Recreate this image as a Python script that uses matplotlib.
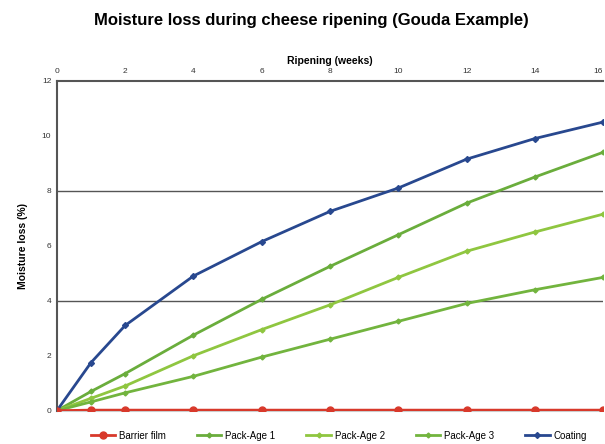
import numpy as np
import matplotlib.pyplot as plt

plt.rcParams['font.family'] = ['Liberation Sans', 'DejaVu Sans']

weeks = [0, 1, 2, 4, 6, 8, 10, 12, 14, 16]
barrier = [0, 0.02, 0.02, 0.02, 0.02, 0.02, 0.02, 0.02, 0.02, 0.02]
pack1 = [0, 0.7, 1.35, 2.75, 4.05, 5.25, 6.4, 7.55, 8.5, 9.4]
pack2 = [0, 0.45, 0.9, 2.0, 2.95, 3.85, 4.85, 5.8, 6.5, 7.15]
pack3 = [0, 0.32, 0.65, 1.25, 1.95, 2.6, 3.25, 3.9, 4.4, 4.85]
coating = [0, 1.75, 3.1, 4.9, 6.15, 7.25, 8.1, 9.15, 9.9, 10.5]

names = ['Barrier film', 'Pack-Age 1', 'Pack-Age 2', 'Pack-Age 3', 'Coating']
series = [barrier, pack1, pack2, pack3, coating]
colors = ['#d8392b', '#6aad3c', '#8fc640', '#72b43e', '#28488f']
markers = ['o', 'D', 'D', 'D', 'D']
msizes = [5, 2.5, 2.5, 2.5, 3]

fig = plt.figure(figsize=(6.05, 4.44), dpi=100)
ax = fig.add_axes([0.094, 0.075, 0.903, 0.743])

for vals, name, c, m, ms in zip(series, names, colors, markers, msizes):
    ax.plot(weeks, vals, color=c, lw=2, marker=m, ms=ms, label=name,
            zorder=3 if name != 'Barrier film' else 4)

ax.set_xlim(0, 16)
ax.set_ylim(0, 12)
ax.set_xticks(range(0, 17, 2))
ax.set_yticks(range(0, 13, 2))
ax.xaxis.tick_top()
ax.xaxis.set_label_position('top')
ax.tick_params(labelsize=6, length=0, pad=4, labelcolor='#333333')
ax.get_xticklabels()[-1].set_horizontalalignment('right')
ax.set_xlabel('Ripening (weeks)', fontsize=7.5, fontweight='bold', labelpad=3)
ax.set_ylabel('Moisture loss (%)', fontsize=7.5, fontweight='bold', labelpad=10)

for y in [4, 8]:
    ax.axhline(y, color='#555555', lw=1, zorder=1)

for s in ['left', 'top']:
    ax.spines[s].set_color('#555555')
    ax.spines[s].set_linewidth(1.5)
ax.spines['right'].set_visible(False)
ax.spines['bottom'].set_color('#cccccc')

fig.suptitle('Moisture loss during cheese ripening (Gouda Example)',
             fontsize=12, fontweight='bold', x=0.515, y=0.97)
fig.legend(loc='lower center', ncol=5, frameon=False, fontsize=7,
           bbox_to_anchor=(0.56, -0.012), handlelength=2.5, columnspacing=3.2,
           handletextpad=0.4)

fig.savefig('out.png', dpi=100)
